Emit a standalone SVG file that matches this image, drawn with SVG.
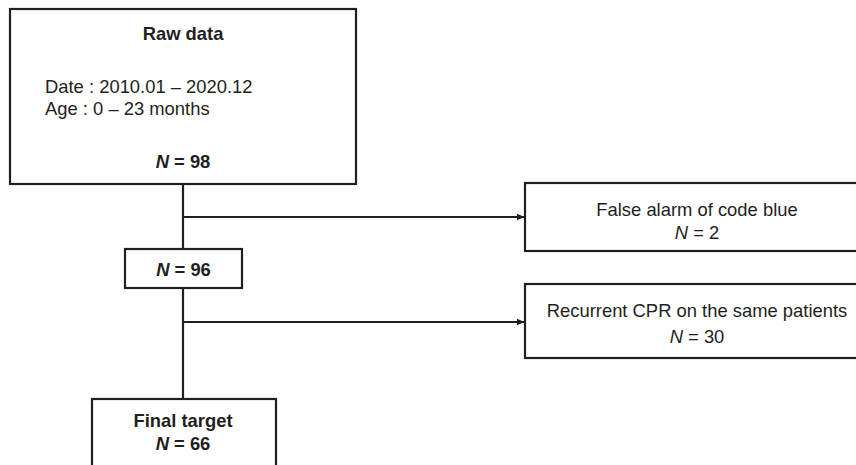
<svg xmlns="http://www.w3.org/2000/svg" width="856" height="465" viewBox="0 0 856 465">
<defs>
<style>
.box{fill:#fff;stroke:#231f20;stroke-width:2.2}
.ln{fill:none;stroke:#231f20;stroke-width:2.2}
text{font-family:"Liberation Sans",Arial,sans-serif;font-size:18.4px;fill:#231f20}
.b{font-weight:bold}
.c{text-anchor:middle}
</style>
<marker id="ah" markerWidth="8" markerHeight="8" refX="7" refY="4" orient="auto" markerUnits="userSpaceOnUse">
<path d="M0,0.8 L7.5,4 L0,7.2 Z" fill="#231f20"/>
</marker>
</defs>
<rect width="856" height="465" fill="#fff"/>
<g id="connectors">
<line class="ln" x1="183" y1="184" x2="183" y2="249"/>
<line class="ln" x1="183" y1="288" x2="183" y2="399"/>
<line class="ln" x1="183" y1="217" x2="524" y2="217" marker-end="url(#ah)"/>
<line class="ln" x1="183" y1="322" x2="524" y2="322" marker-end="url(#ah)"/>
</g>
<g id="raw">
<rect class="box" x="10" y="9" width="346" height="175"/>
<text class="b c" x="183" y="40">Raw data</text>
<text x="45" y="93">Date : 2010.01 – 2020.12</text>
<text x="45" y="115">Age : 0 – 23 months</text>
<text class="b c" x="183" y="168"><tspan font-style="italic">N</tspan> = 98</text>
</g>
<g id="n96">
<rect class="box" x="125" y="249" width="117" height="39"/>
<text class="b c" x="183.5" y="276"><tspan font-style="italic">N</tspan> = 96</text>
</g>
<g id="false-alarm">
<rect class="box" x="525" y="183" width="344" height="68"/>
<text class="c" x="697" y="216">False alarm of code blue</text>
<text class="c" x="697" y="239"><tspan font-style="italic">N</tspan> = 2</text>
</g>
<g id="recurrent">
<rect class="box" x="525" y="284" width="344" height="74"/>
<text class="c" x="697" y="317">Recurrent CPR on the same patients</text>
<text class="c" x="697" y="343"><tspan font-style="italic">N</tspan> = 30</text>
</g>
<g id="final">
<rect class="box" x="92" y="399" width="184" height="80"/>
<text class="b c" x="183" y="427">Final target</text>
<text class="b c" x="183" y="450"><tspan font-style="italic">N</tspan> = 66</text>
</g>
</svg>
